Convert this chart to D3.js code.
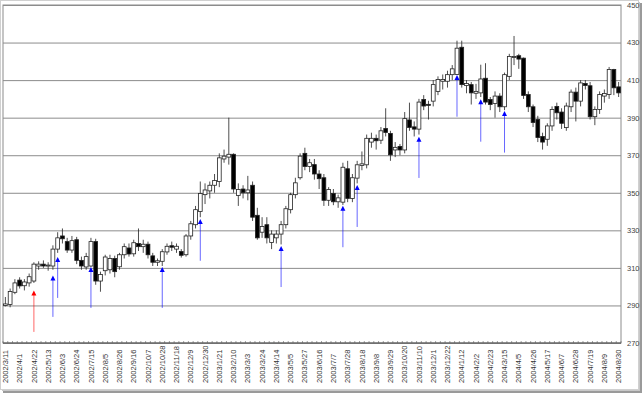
<!DOCTYPE html>
<html>
<head>
<meta charset="utf-8">
<script src="https://cdn.jsdelivr.net/npm/d3@7"></script>
<style>
body { margin: 0; background: #fff; }
svg { display: block; font-family: "Liberation Sans", Arial, sans-serif; }
</style>
</head>
<body>
<div id="chart"></div>
<script>
// weekly candles, 2002/3/11 .. 2004/8/30 (130 weeks)
var opens = [290,290.5,297,303.5,300.5,302,303,311,312,311, 311,320,327,324,319.5,325,314,310.5,311,324,
  303,308.5,309,315,310.6,317,320.6,317.5,323,321.3, 322.6,316.4,313,313.5,318.5,321.8,320,318.7,317,327,
  333,340,349,351,354,356,368,369,370.5,348.6, 352,350,354,338,329,333,323.5,326,328,333,
  341,349,358,371,364,365,360,358,346,349.6, 345.2,345,362.8,347,357.8,364.5,364.9,377,379,378,
  384.2,381.6,372.8,374.7,372.8,388.8,385.1,383.9,399.7,397.1, 398.8,404,409.4,409.4,412.9,413,427.5,407.1,407.6,403,
  403.2,411,399.7,397.6,401.5,395.8,412,422,423,421.7, 402.3,395.8,389,380,378.5,385.6,396,393,384.7,395.8,
  403.6,398.8,408.2,407,390.5,394.4,401.5,402.3,415.6,406.4];
var highs = [294.5,299,304,305,304,307,313,313.5,314,313, 322,329,331,326,327,326.5,316,318,326,325.5,
  308,317,317,316.5,318,323,323,325,331,325, 324,318,315,320,323,324,323,320,328,335,
  343,356,355,356,360,371,373,390,371,355, 354,359,356,342,337,337,330,330,335,343,
  350,358,371,374,368,368,362,360,353,352, 349,366,367,360,367,372,381,382,381,385,
  395,383,377,376,393,398,388,400,402,399, 410,412,413,415,418,431,431,410,409,408,
  418.2,419,401,404,403,414,424,433.5,424,422, 404,397,391,382,387,396,398,395,398,405,
  406,410,410,409,396,404,405,417,416,409];
var lows = [289.5,289,296,299,298,300,302,309,310,308.5, 309,318,323,318,318,312,309,309,310.5,301,
  297.3,306,307,305,309,315,316,316,319,318, 315,311,311,311,317,319,318,315.5,316,325,
  331,337,344,347,350,353,366,365,350,343, 347,346,335,325,326,323,320,323,322.5,331,
  339,347,357,362,361,357,352,343,343,343.4, 342,343.5,345,345,355,362,363,374,373,376,
  380,367,369,370,371,383,380,381,394,389, 396,402,405,406,410,412.8,406,403,397,400,
  401,397,394,390,393,394,410,418,416,400, 393,385,377,373,375,383,389,384,383,393,
  388,396,405,389,386,392,398,400,402,401];
var closes = [290.8,297.4,302,300.4,302.5,305.3,312,312,311,311.5, 320,326,325.5,319.5,324.5,314,311,316,324,303,
  306.5,315.8,315,308,317,321.3,317.4,323.4,321.3,322.6, 317,313,313.8,318.6,321.5,321,321.5,316.7,327,333.5,
  341,349.6,351.5,354,356.5,368.6,369.5,370.5,352,351.7, 350,351.5,337,326,332,326,328,328,333,341.5,
  349,355.3,369.5,364,366,360,357.5,346,351.8,345.2, 347.3,363.6,347,358,364.9,365.4,379,379,377.7,383,
  382.1,370.2,374.2,372.8,389.5,384.8,383.9,398.3,396.2,396.6, 407.6,410.3,410.3,412.9,416,427,407.6,408.2,403.2,404,
  410.6,398.3,397,401.5,395.8,412.9,422.6,422.6,421.2,401.8, 395.8,387.4,379.4,377,385.6,394.4,392.6,387,396.2,403.6,
  398.8,408.5,407.1,390.5,394.4,402.3,402.9,415.6,405.9,403.2];

// one label every third week
var tickLabels = ["2002/3/11","2002/4/1","2002/4/22","2002/5/13","2002/6/3","2002/6/24","2002/7/15","2002/8/5",
  "2002/8/26","2002/9/16","2002/10/7","2002/10/28","2002/11/18","2002/12/9","2002/12/30","2003/1/21",
  "2003/2/10","2003/3/3","2003/3/24","2003/4/14","2003/5/5","2003/5/27","2003/6/16","2003/7/7",
  "2003/7/28","2003/8/18","2003/9/8","2003/9/29","2003/10/20","2003/11/10","2003/12/1","2003/12/22",
  "2004/1/12","2004/2/2","2004/2/23","2004/3/15","2004/4/5","2004/4/26","2004/5/17","2004/6/7",
  "2004/6/28","2004/7/19","2004/8/9","2004/8/30"];
var yTicks = [270, 290, 310, 330, 350, 370, 390, 410, 430, 450];

// signal arrows: week index, tip price, tail price, kind
var signalWeeks = [6, 10, 11, 18, 33, 41, 58, 71, 74, 87, 95, 100, 105];
var signalTips = [297.9, 305.9, 315.8, 310.5, 310.5, 336, 321.7, 343.1, 354.2, 379.9, 412.7, 399.8, 393.6];
var signalTails = [275.9, 283.9, 294, 288.7, 288.7, 313.8, 299.8, 321, 331.8, 357.9, 390.5, 377.2, 371.4];
var signalKinds = ["red", "blue", "blue", "blue", "blue", "blue", "blue", "blue", "blue", "blue", "blue", "blue", "blue"];

const width = 644, height = 396;
const margin = {top: 5, right: 23, bottom: 53, left: 3};

var svg = d3.select("#chart").append("svg")
    .attr("width", width)
    .attr("height", height);

// frame with drop shadow
svg.append("rect").attr("x", 3).attr("y", 3).attr("width", 639).attr("height", 390).attr("fill", "#9a9a9a");
svg.append("rect").attr("x", 2).attr("y", 2).attr("width", 638).attr("height", 389).attr("fill", "#c8c8c8");
svg.append("rect").attr("x", 0.5).attr("y", 0.5).attr("width", 638).attr("height", 389)
    .attr("fill", "#fff").attr("stroke", "#d0d0d0");

var weeks = d3.range(opens.length);

var x_scale = d3.scaleBand()
    .domain(weeks)
    .range([margin.left, width - margin.right])
    .paddingInner(0.2)
    .paddingOuter(0.1);

var y_scale = d3.scaleLinear()
    .domain([270, 450])
    .range([height - margin.bottom, margin.top]);

var cx = function(i) { return x_scale(i) + x_scale.bandwidth() / 2; };

// grid lines + right labels
svg.append("g")
    .attr("transform", "translate(" + (width - margin.right) + ",0)")
    .call(d3.axisRight(y_scale).tickValues(yTicks).tickSize(0).tickPadding(6)
        .tickSizeInner(-(width - margin.left - margin.right)))
    .call(g => g.select(".domain").remove())
    .call(g => g.selectAll("line").attr("stroke", "#8c8c8c"))
    .call(g => g.selectAll("text").attr("fill", "#444").style("font-size", "7.5px"));

// plot border
svg.append("rect")
    .attr("x", margin.left).attr("y", margin.top)
    .attr("width", width - margin.left - margin.right)
    .attr("height", height - margin.top - margin.bottom)
    .attr("fill", "none").attr("stroke", "#8c8c8c");

// x axis: small tick per week, label every third week
var step = x_scale.step();
svg.append("g")
    .selectAll("line")
    .data(weeks.concat([opens.length]))
    .enter().append("line")
    .attr("x1", d => margin.left + d * step)
    .attr("x2", d => margin.left + d * step)
    .attr("y1", height - margin.bottom)
    .attr("y2", height - margin.bottom - 2)
    .attr("stroke", "#777")
    .attr("stroke-width", 0.7);

svg.append("line")
    .attr("x1", margin.left).attr("x2", width - margin.right)
    .attr("y1", height - margin.bottom).attr("y2", height - margin.bottom)
    .attr("stroke", "#555");

svg.append("g")
    .selectAll("text")
    .data(tickLabels)
    .enter().append("text")
    .attr("transform", (d, k) => "translate(" + cx(k * 3) + "," + (height - 13) + ") rotate(-90)")
    .attr("dy", "0.35em")
    .attr("text-anchor", "start")
    .attr("fill", "#333")
    .style("font-size", "7.5px")
    .text(d => d);

// candles
var candles = svg.append("g");
candles.selectAll("line")
    .data(weeks)
    .enter().append("line")
    .attr("x1", d => cx(d)).attr("x2", d => cx(d))
    .attr("y1", d => y_scale(highs[d]))
    .attr("y2", d => y_scale(lows[d]))
    .attr("stroke", "#222")
    .attr("stroke-width", 0.8);

candles.selectAll("rect")
    .data(weeks)
    .enter().append("rect")
    .attr("x", d => x_scale(d))
    .attr("width", x_scale.bandwidth())
    .attr("y", d => y_scale(Math.max(opens[d], closes[d])))
    .attr("height", d => Math.max(1, Math.abs(y_scale(opens[d]) - y_scale(closes[d]))))
    .attr("fill", d => closes[d] >= opens[d] ? "#fff" : "#000")
    .attr("stroke", "#222")
    .attr("stroke-width", 0.8);

// signal arrows
var colors = {red: "#ff0000", blue: "#0000ff"};
var arrows = svg.append("g");
signalWeeks.forEach(function(w, k) {
    var x = cx(w), yt = y_scale(signalTips[k]), yb = y_scale(signalTails[k]);
    var c = colors[signalKinds[k]];
    arrows.append("line")
        .attr("x1", x).attr("x2", x)
        .attr("y1", yt + 4).attr("y2", yb)
        .attr("stroke", c).attr("stroke-opacity", 0.6).attr("stroke-width", 1);
    arrows.append("path")
        .attr("d", "M" + x + "," + yt + "L" + (x - 2.5) + "," + (yt + 5) + "L" + (x + 2.5) + "," + (yt + 5) + "Z")
        .attr("fill", c);
});
</script>
</body>
</html>
